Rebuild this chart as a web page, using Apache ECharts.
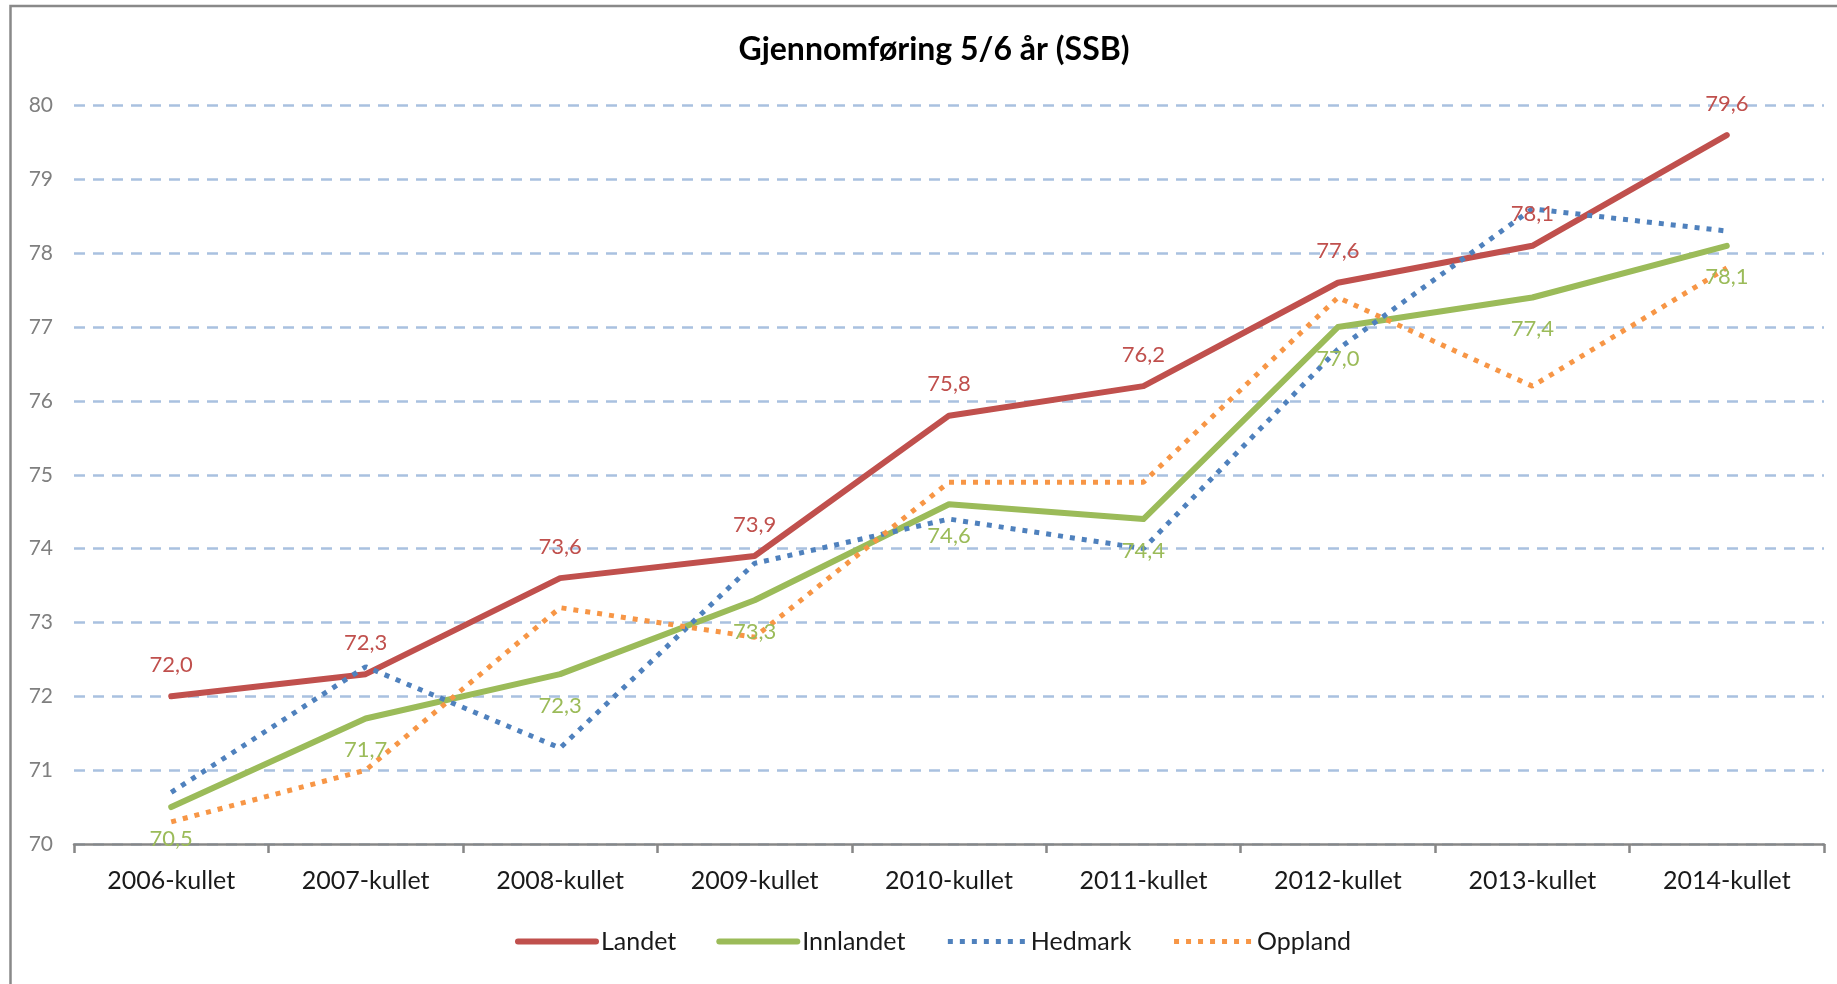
<!DOCTYPE html>
<html>
<head>
<meta charset="utf-8">
<script src="https://cdn.jsdelivr.net/npm/echarts@6/dist/echarts.min.js"></script>
<style>
html,body{margin:0;padding:0;background:#fff;}
#chart{width:1837px;height:984px;}
</style>
</head>
<body>
<div id="chart"></div>
<script>
const categories = ['2006-kullet','2007-kullet','2008-kullet','2009-kullet','2010-kullet','2011-kullet','2012-kullet','2013-kullet','2014-kullet'];
const landet    = [72.0, 72.3, 73.6, 73.9, 75.8, 76.2, 77.6, 78.1, 79.6];
const innlandet = [70.5, 71.7, 72.3, 73.3, 74.6, 74.4, 77.0, 77.4, 78.1];
const hedmark   = [70.7, 72.4, 71.3, 73.8, 74.4, 74.0, 76.7, 78.6, 78.3];
const oppland   = [70.3, 71.0, 73.2, 72.8, 74.9, 74.9, 77.4, 76.2, 77.8];
const yTicks = [70, 71, 72, 73, 74, 75, 76, 77, 78, 79, 80];

const FONT = 'Lato';
const fmt = p => p.value.toFixed(1).replace('.', ',');
const RED = '#C0504D', GREEN = '#9BBB59', BLUE = '#4F81BD', ORANGE = '#F79646';
const DOTS = [5, 7];

const chart = echarts.init(document.getElementById('chart'), null, {renderer: 'canvas'});
chart.setOption({
  backgroundColor: '#ffffff',
  animation: false,
  title: {
    text: 'Gjennomføring 5/6 år (SSB)',
    left: 929,
    textAlign: 'center',
    top: 29,
    textStyle: {fontFamily: FONT, fontWeight: 'bold', fontSize: 32, color: '#000000'}
  },
  graphic: [{
    type: 'rect',
    shape: {x: 10.5, y: 6, width: 1900, height: 1100},
    style: {fill: null, stroke: '#898989', lineWidth: 2.5},
    silent: true
  }],
  grid: {left: 74, right: 13, top: 105.5, bottom: 140, containLabel: false},
  legend: {
    left: 510,
    top: 924,
    itemWidth: 78,
    itemHeight: 30,
    itemGap: 40,
    textStyle: {fontFamily: FONT, fontSize: 25, color: '#1a1a1a'},
    itemStyle: {opacity: 0},
    data: [
      {name: 'Landet', lineStyle: {color: RED, width: 6, cap: 'round'}},
      {name: 'Innlandet', lineStyle: {color: GREEN, width: 6, cap: 'round'}},
      {name: 'Hedmark', lineStyle: {color: BLUE, width: 5, type: DOTS, cap: 'butt'}},
      {name: 'Oppland', lineStyle: {color: ORANGE, width: 5, type: DOTS, cap: 'butt'}}
    ]
  },
  xAxis: {
    type: 'category',
    data: categories,
    boundaryGap: true,
    axisLine: {lineStyle: {color: '#878787', width: 2.5}},
    axisTick: {show: true, alignWithLabel: false, length: 9, lineStyle: {color: '#878787', width: 2.5}},
    axisLabel: {fontFamily: FONT, fontSize: 25, color: '#1a1a1a', margin: 24, interval: 0}
  },
  yAxis: {
    type: 'value',
    min: yTicks[0],
    max: yTicks[yTicks.length - 1],
    interval: 1,
    axisLine: {show: false},
    axisTick: {show: false},
    axisLabel: {fontFamily: FONT, fontSize: 21, color: '#7f7f7f', margin: 21},
    splitLine: {show: true, lineStyle: {color: '#a9c1e0', width: 2.5, type: [11, 8]}}
  },
  series: [
    {
      name: 'Landet', type: 'line', data: landet,
      symbol: 'circle', symbolSize: 1, showSymbol: true,
      lineStyle: {color: RED, width: 6, cap: 'round', join: 'round'},
      itemStyle: {color: RED, opacity: 0},
      label: {show: true, position: 'top', distance: 20, formatter: fmt,
              fontFamily: FONT, fontSize: 22, color: RED, opacity: 1}
    },
    {
      name: 'Innlandet', type: 'line', data: innlandet,
      symbol: 'circle', symbolSize: 1, showSymbol: true,
      lineStyle: {color: GREEN, width: 6, cap: 'round', join: 'round'},
      itemStyle: {color: GREEN, opacity: 0},
      label: {show: true, position: 'bottom', distance: 20, formatter: fmt,
              fontFamily: FONT, fontSize: 22, color: GREEN, opacity: 1}
    },
    {
      name: 'Hedmark', type: 'line', data: hedmark, symbol: 'none',
      lineStyle: {color: BLUE, width: 5, type: DOTS, cap: 'butt'},
      itemStyle: {color: BLUE}
    },
    {
      name: 'Oppland', type: 'line', data: oppland, symbol: 'none',
      lineStyle: {color: ORANGE, width: 5, type: DOTS, cap: 'butt'},
      itemStyle: {color: ORANGE}
    }
  ]
});
</script>
</body>
</html>
